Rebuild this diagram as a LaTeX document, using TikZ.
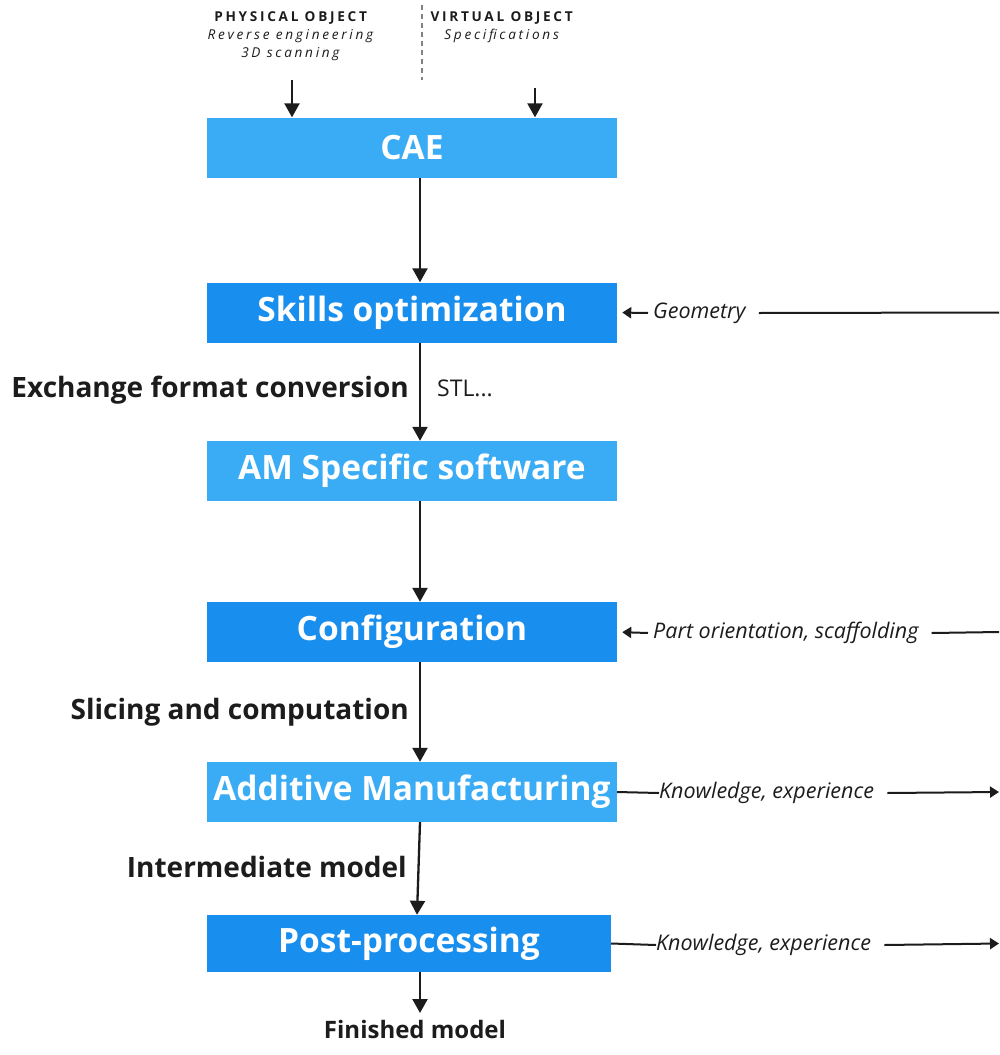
\documentclass[tikz,border=0pt]{standalone}
\usepackage{fontspec}
\setmainfont{Open Sans}
\newfontfamily\spaced[LetterSpace=20]{Open Sans}
\usepackage{xcolor}
\usetikzlibrary{arrows.meta, positioning, calc}

\definecolor{boxlight}{RGB}{58,172,245}
\definecolor{boxdark}{RGB}{24,142,238}
\definecolor{ink}{RGB}{28,28,28}

\begin{document}
\begin{tikzpicture}[x=1pt, y=-1pt,
    stage/.style={fill=#1, minimum width=410pt, minimum height=60pt, inner sep=0pt, text=white, font=\fontsize{33.5}{38}\selectfont\bfseries},
    side/.style={text=ink, inner sep=0pt, font=\fontsize{28}{32}\selectfont\bfseries},
    note/.style={text=ink, inner sep=0pt, font=\fontsize{21.5}{25}\selectfont\itshape},
    head/.style={text=ink, inner sep=0pt, align=center, font=\fontsize{13.6}{18}\selectfont\spaced},
    flow/.style={draw=ink, line width=2.3pt, -{Triangle[width=15pt,length=14pt]}},
    tick/.style={draw=ink, line width=2pt, -{Triangle[width=11pt,length=9pt]}},
    plain/.style={draw=ink, line width=2pt},
  ]
  \useasboundingbox (0,0) rectangle (999,1055);
  \fill[white] (0,0) rectangle (999,1055);

  % header: the two kinds of source object
  \node[head, anchor=north] (phys) at (292,11) {\textbf{PHYSICAL OBJECT}\\\textit{Reverse engineering}\\\textit{3D scanning}};
  \node[head, anchor=north] (virt) at (503,11) {\textbf{VIRTUAL OBJECT}\\\textit{Specifications}};
  \draw[ink!55, line width=1.5pt, dash pattern=on 5pt off 4pt] (422,5) -- (422,80);
  \coordinate (physin) at (292,80);
  \coordinate (virtin) at (535,88);

  % process chain
  \node[stage=boxlight] (cae) at (412,147.5) {CAE};
  \node[stage=boxdark] (skills) at (412,312.5) {Skills optimization};
  \node[stage=boxlight] (amsw) at (412,471) {AM Specific software};
  \node[stage=boxdark] (config) at (412,632) {Configuration};
  \node[stage=boxlight] (additive) at (412,792) {Additive Manufacturing};
  \node[stage=boxdark, minimum width=404pt, minimum height=57pt] (post) at (409,943.5) {Post-processing};

  \node[side, anchor=east] (exch) at (409,390) {Exchange format conversion};
  \node[side, anchor=west, font=\fontsize{23}{28}\selectfont] (stl) at (437,388) {STL...};
  \node[side, anchor=east] (slice) at (409,712) {Slicing and computation};
  \node[side, anchor=east] (inter) at (407,867) {Intermediate model};
  \node[side, anchor=north, font=\fontsize{24}{28}\selectfont\bfseries] (fin) at (415,1020) {Finished model};

  \draw[flow] (physin) -- (physin |- cae.north);
  \draw[flow] (virtin) -- (virtin |- cae.north);
  \draw[flow] ([xshift=8pt]cae.south) -- ([xshift=8pt]skills.north);
  \draw[flow] ([xshift=8pt]skills.south) -- ([xshift=8pt]amsw.north);
  \draw[flow] ([xshift=8pt]amsw.south) -- ([xshift=8pt]config.north);
  \draw[flow] ([xshift=8pt]config.south) -- ([xshift=8pt]additive.north);
  \draw[flow] ([xshift=8pt]additive.south) -- ([xshift=8pt]post.north);
  \draw[flow, shorten >=7pt] ([xshift=11pt]post.south) -- ([xshift=11pt]post.south |- fin.north);

  % feedback and outputs on the right
  \coordinate (edge) at (999,0);
  \node[note, anchor=west] (geo) at (653,313) {Geometry};
  \draw[tick, shorten >=5pt] ([xshift=-5pt]geo.west) -- (skills.east);
  \draw[plain] (edge |- skills.east) -- ([xshift=13pt]geo.east);

  \node[note, anchor=west] (orient) at (653,633) {Part orientation, scaffolding};
  \draw[tick, shorten >=5pt] ([xshift=-5pt]orient.west) -- (config.east);
  \draw[plain] (edge |- config.east) -- ([xshift=13pt]orient.east);

  \node[note, anchor=west] (knowam) at (659,793) {Knowledge, experience};
  \draw[plain] (additive.east) -- (knowam.west);
  \draw[tick] ([xshift=13pt]knowam.east) -- (edge |- additive.east);

  \node[note, anchor=west] (knowpost) at (656,945) {Knowledge, experience};
  \draw[plain] (post.east) -- (knowpost.west);
  \draw[tick] ([xshift=13pt]knowpost.east) -- (edge |- post.east);
\end{tikzpicture}
\end{document}
